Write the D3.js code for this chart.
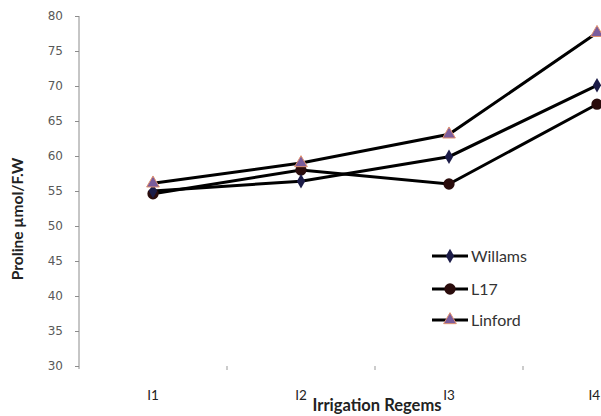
<!DOCTYPE html>
<html><head><meta charset="utf-8">
<script src="https://cdn.jsdelivr.net/npm/d3@7"></script>
<style>body{margin:0;background:#fff}svg{display:block}</style>
</head><body>
<script>
const categories = ["I1","I2","I3","I4"];
const yTicks = [30,35,40,45,50,55,60,65,70,75,80];
const seriesNames = ["Willams","L17","Linford"];
const willams = [55.0, 56.4, 59.9, 70.1];
const l17 = [54.6, 58.0, 56.0, 67.4];
const linford = [56.1, 59.0, 63.1, 77.6];
const seriesValues = [willams, l17, linford];

const W = 601, H = 416;
const svg = d3.select("body").append("svg").attr("width", W).attr("height", H);

const x = d3.scaleBand().domain(categories).range([79, 671]);
const y = d3.scaleLinear().domain([30, 80]).range([366, 16]);
const cx = c => x(c) + x.bandwidth()/2;

// y axis
const ya = svg.append("g").attr("transform","translate(79,0)")
  .call(d3.axisLeft(y).tickValues(yTicks).tickSize(4).tickPadding(12).tickSizeOuter(0));
ya.select(".domain").attr("stroke","#8c8c8c").attr("d","M0,16V369");
ya.selectAll(".tick line").attr("stroke","#8c8c8c");
ya.selectAll(".tick text").attr("font-family","DejaVu Sans").attr("font-size",12).attr("fill","#595959");

// x ticks at category boundaries
svg.append("g").selectAll("line").data(categories.slice(0,3)).join("line")
  .attr("x1", c => x(c)+x.bandwidth()).attr("x2", c => x(c)+x.bandwidth())
  .attr("y1", 366).attr("y2", 370).attr("stroke","#999");

// x labels
svg.append("g").selectAll("text").data(categories).join("text")
  .attr("y", 400).attr("text-anchor","middle")
  .attr("font-family","Lato").attr("font-size",13.5).attr("fill","#222").text(c => c)
  .attr("x", function(c){ const w = this.getComputedTextLength(); return Math.min(cx(c), W - 1 - w/2); });

svg.append("text").attr("x",377).attr("y",411).attr("text-anchor","middle")
  .attr("font-family","Lato").attr("font-weight","bold").attr("font-size",16.5).attr("fill","#222")
  .text("Irrigation Regems");

svg.append("text").attr("transform","translate(23,219) rotate(-90)").attr("text-anchor","middle")
  .attr("font-family","Lato").attr("font-weight","bold").attr("font-size",15.5).attr("fill","#222")
  .text("Proline µmol/F.W");

// lines
const line = d3.line().x((d,i) => cx(categories[i])).y(d => y(d));
seriesValues.forEach(vals => {
  svg.append("path").attr("d", line(vals)).attr("fill","none")
    .attr("stroke","#000").attr("stroke-width",3);
});

// markers
const symbols = [d3.symbolDiamond, d3.symbolCircle, d3.symbolTriangle];
const sizes = [60, 100, 70];
const fills = ["#1c1c48", "#2a0c0c", "#7a5c9c"];
const strokes = ["none", "none", "#e09070"];
function marker(g, i, px, py){
  g.append("path").attr("d", d3.symbol(symbols[i], sizes[i])())
    .attr("transform", `translate(${px},${py})`)
    .attr("fill", fills[i]).attr("stroke", strokes[i]).attr("stroke-width", 1);
}
const mg = svg.append("g");
[1,0,2].forEach(i => {
  seriesValues[i].forEach((v,j) => marker(mg, i, cx(categories[j]), y(v)));
});

// legend
const legY = [256, 289, 320];
seriesNames.forEach((n,i) => {
  svg.append("line").attr("x1",432).attr("x2",468).attr("y1",legY[i]).attr("y2",legY[i])
    .attr("stroke","#000").attr("stroke-width",3);
  marker(svg, i, 450, legY[i]);
  svg.append("text").attr("x",471).attr("y",legY[i]+5.5).attr("font-family","Lato")
    .attr("font-size",16).attr("fill","#333").text(n);
});
</script>
</body></html>
